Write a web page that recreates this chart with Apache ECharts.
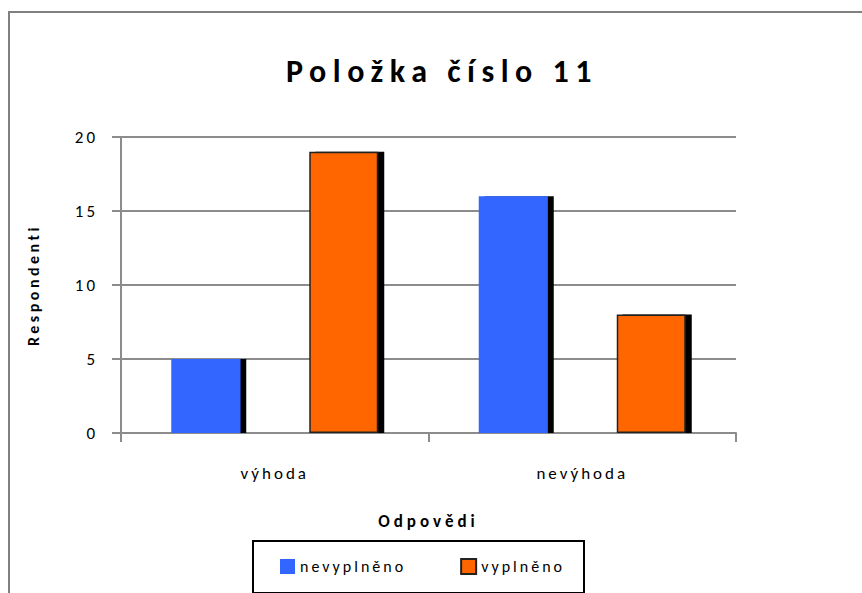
<!DOCTYPE html>
<html>
<head>
<meta charset="utf-8">
<script src="https://cdn.jsdelivr.net/npm/echarts@6/dist/echarts.min.js"></script>
<style>
html,body{margin:0;padding:0;background:#fff;}
#chart{width:862px;height:593px;}
</style>
</head>
<body>
<div id="chart"></div>
<script>
const titleText = 'Položka číslo 11';
const categories = ['výhoda', 'nevýhoda'];
const seriesNames = ['nevyplněno', 'vyplněno'];
const nevyplneno = [5, 16];
const vyplneno = [19, 8];
const yTicks = { min: 0, max: 20, interval: 5 };
const yName = 'Respondenti';
const xName = 'Odpovědi';

const FONT = 'Carlito, Lato, "Open Sans", sans-serif';
const shadow = { shadowColor: '#000', shadowBlur: 0, shadowOffsetX: 6, shadowOffsetY: 0 };

const chart = echarts.init(document.getElementById('chart'), null, { renderer: 'svg' });
chart.setOption({
  animation: false,
  backgroundColor: '#fff',
  textStyle: { fontFamily: FONT },
  title: {
    text: titleText,
    left: 437,
    textAlign: 'center',
    top: 50,
    textStyle: { fontFamily: FONT, fontSize: 32, fontWeight: 'bold', color: '#000' }
  },
  grid: { left: 121, right: 126, top: 137, bottom: 160 },
  legend: {
    data: seriesNames,
    left: 280,
    top: 558,
    padding: 0,
    itemWidth: 15,
    itemHeight: 15,
    itemGap: 84,
    icon: 'rect',
    textStyle: { fontFamily: FONT, fontSize: 16, color: '#000' },
    itemStyle: { shadowColor: 'transparent', shadowOffsetX: 0, shadowOffsetY: 0 }
  },
  xAxis: {
    type: 'category',
    data: categories,
    name: xName,
    nameLocation: 'middle',
    nameGap: 80,
    nameTextStyle: { fontFamily: FONT, fontSize: 17, fontWeight: 'bold', color: '#000' },
    axisLine: { lineStyle: { color: '#8c8c8c', width: 2 } },
    axisTick: { show: true, length: 9, lineStyle: { color: '#8c8c8c', width: 2 } },
    axisLabel: { margin: 32, fontFamily: FONT, fontSize: 17, color: '#000' },
    splitLine: { show: false }
  },
  yAxis: {
    type: 'value',
    min: yTicks.min,
    max: yTicks.max,
    interval: yTicks.interval,
    name: yName,
    nameLocation: 'middle',
    nameGap: 80,
    nameRotate: 90,
    nameTextStyle: { fontFamily: FONT, fontSize: 16, fontWeight: 'bold', color: '#000' },
    axisLine: { show: true, lineStyle: { color: '#8c8c8c', width: 2 } },
    axisTick: { show: true, length: 9, lineStyle: { color: '#8c8c8c', width: 2 } },
    axisLabel: { margin: 23, fontFamily: FONT, fontSize: 17, color: '#000' },
    splitLine: { show: true, lineStyle: { color: '#8c8c8c', width: 2 } }
  },
  series: [
    {
      name: seriesNames[0],
      type: 'bar',
      data: nevyplneno,
      barWidth: 69,
      barGap: '100%',
      itemStyle: Object.assign({ color: '#3366FF' }, shadow)
    },
    {
      name: seriesNames[1],
      type: 'bar',
      data: vyplneno,
      barWidth: 69,
      barGap: '100%',
      itemStyle: Object.assign({ color: '#FF6600', borderColor: '#222', borderWidth: 1.5 }, shadow)
    }
  ],
  graphic: [
    {
      type: 'rect',
      silent: true,
      z: -10,
      shape: { x: 9, y: 12, width: 900, height: 700 },
      style: { fill: 'none', stroke: '#808080', lineWidth: 2 }
    },
    {
      type: 'rect',
      silent: true,
      z: -5,
      shape: { x: 253, y: 541, width: 331, height: 52 },
      style: { fill: '#fff', stroke: '#000', lineWidth: 2 }
    }
  ]
});

const spacingMap = {};
spacingMap[titleText] = 6.5;
spacingMap[yName] = 3.5;
spacingMap[xName] = 4;
function applySpacing() {
  document.querySelectorAll('#chart text').forEach(t => {
    const txt = t.textContent;
    let s = 3;
    if (spacingMap[txt] !== undefined) s = spacingMap[txt];
    t.style.letterSpacing = s + 'px';
  });
}
chart.on('finished', applySpacing);
setTimeout(applySpacing, 50);
setTimeout(applySpacing, 300);
</script>
</body>
</html>
